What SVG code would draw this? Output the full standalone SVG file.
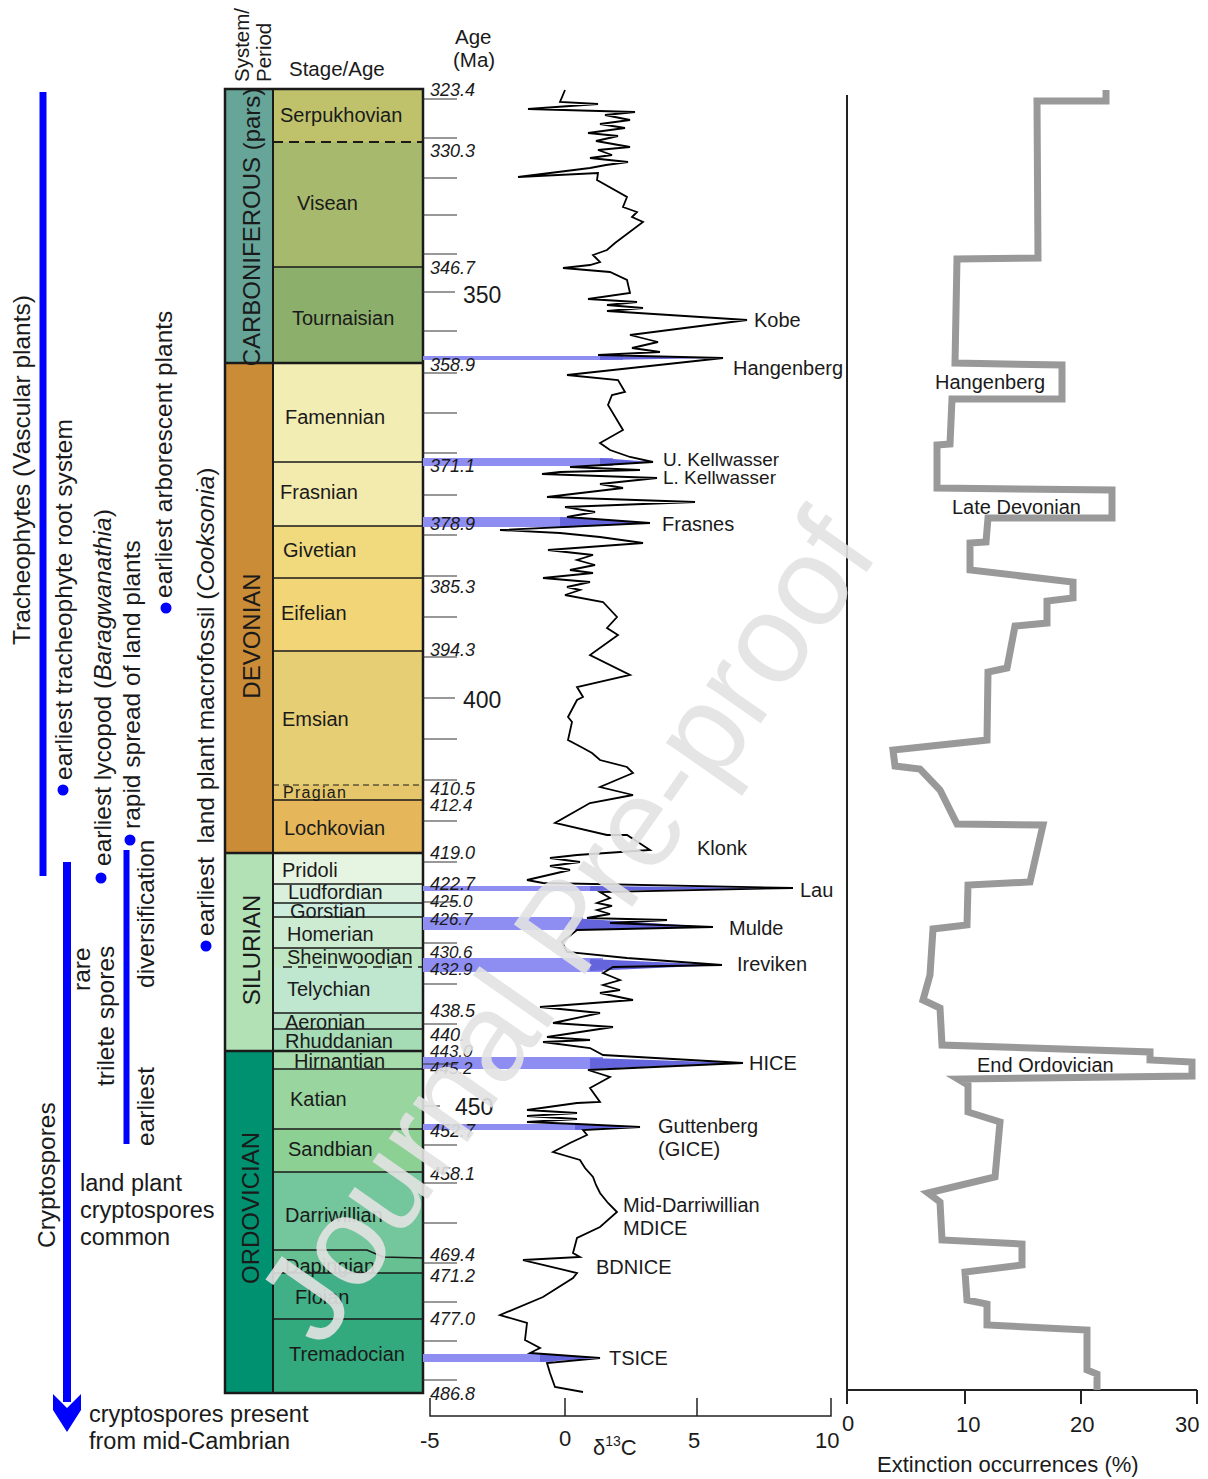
<svg xmlns="http://www.w3.org/2000/svg" width="1208" height="1479" viewBox="0 0 1208 1479">
<style>
text{font-family:"Liberation Sans",Arial,sans-serif;fill:#1a1a1a}
.age{font-style:italic;font-size:18px}
.stg{font-size:20px}
.lbl{font-size:20px}
.rot{font-size:24.5px}
.per{font-size:24px}
.hdr{font-size:20.5px}
.bl{stroke:#1a1a1a;stroke-width:1.5;fill:none}
.pb{stroke:#1a1a1a;stroke-width:2.5;fill:none}
.tk{stroke:#333;stroke-width:1.2}
.band{fill:#8e8ef2}
.wedge{fill:#6464dc}
.dot{fill:#0000ff}
</style>
<rect width="1208" height="1479" fill="#fff"/>

<!-- header -->
<g id="header">
<text class="hdr" transform="translate(249,82) rotate(-90)">System/</text>
<text class="hdr" transform="translate(271,82) rotate(-90)">Period</text>
<text class="hdr" x="289" y="76">Stage/Age</text>
<text class="hdr" x="455" y="44">Age</text>
<text class="hdr" x="453" y="67">(Ma)</text>
</g>

<!-- periods -->
<g id="periods">
<rect x="225" y="89" width="48" height="274" fill="#67A599"/>
<rect x="225" y="363" width="48" height="490" fill="#CB8C37"/>
<rect x="225" y="853" width="48" height="198" fill="#B3E1B6"/>
<rect x="225" y="1051" width="48" height="342" fill="#009270"/>
<text class="per" text-anchor="middle" transform="translate(260,227) rotate(-90)">CARBONIFEROUS (pars)</text>
<text class="per" text-anchor="middle" transform="translate(260,636) rotate(-90)">DEVONIAN</text>
<text class="per" text-anchor="middle" transform="translate(260,950) rotate(-90)">SILURIAN</text>
<text class="per" text-anchor="middle" transform="translate(259,1208) rotate(-90)">ORDOVICIAN</text>
</g>

<!-- stages -->
<g id="stages">
<rect x="273" y="89" width="150" height="53" fill="#BFC26B"/>
<rect x="273" y="142" width="150" height="125" fill="#A6B96C"/>
<rect x="273" y="267" width="150" height="96" fill="#8CB06C"/>
<rect x="273" y="363" width="150" height="99" fill="#F2EDB3"/>
<rect x="273" y="462" width="150" height="64" fill="#F2EBAD"/>
<rect x="273" y="526" width="150" height="52" fill="#F1DA7E"/>
<rect x="273" y="578" width="150" height="73" fill="#F1D576"/>
<rect x="273" y="651" width="150" height="134" fill="#E6CE74"/>
<rect x="273" y="785" width="150" height="15" fill="#E5C66A"/>
<rect x="273" y="800" width="150" height="53" fill="#E5B75A"/>
<rect x="273" y="853" width="150" height="31" fill="#E6F5E1"/>
<rect x="273" y="884" width="150" height="19" fill="#D9F0DF"/>
<rect x="273" y="903" width="150" height="14" fill="#CCECDD"/>
<rect x="273" y="917" width="150" height="31" fill="#CCEBD1"/>
<rect x="273" y="948" width="150" height="19" fill="#BFE6C3"/>
<rect x="273" y="967" width="150" height="46" fill="#BFE6CF"/>
<rect x="273" y="1013" width="150" height="16" fill="#B3E1C2"/>
<rect x="273" y="1029" width="150" height="22" fill="#A6DCB5"/>
<rect x="273" y="1051" width="150" height="18" fill="#A6DBAB"/>
<rect x="273" y="1069" width="150" height="60" fill="#99D69F"/>
<rect x="273" y="1129" width="150" height="43" fill="#8CD094"/>
<rect x="273" y="1172" width="150" height="86" fill="#74C69C"/>
<polygon points="273,1250 367,1250 383,1257 423,1258 423,1273 273,1273" fill="#66C092"/>
<rect x="273" y="1273" width="150" height="46" fill="#41B087"/>
<rect x="273" y="1319" width="150" height="74" fill="#33A97E"/>

<text class="stg" x="280" y="122">Serpukhovian</text>
<text class="stg" x="297" y="210">Visean</text>
<text class="stg" x="292" y="325">Tournaisian</text>
<text class="stg" x="285" y="424">Famennian</text>
<text class="stg" x="280" y="499">Frasnian</text>
<text class="stg" x="283" y="557">Givetian</text>
<text class="stg" x="281" y="620">Eifelian</text>
<text class="stg" x="282" y="726">Emsian</text>
<text class="stg" x="283" y="798" style="font-size:16px;letter-spacing:1.3px">Pragian</text>
<text class="stg" x="284" y="835">Lochkovian</text>
<text class="stg" x="282" y="877">Pridoli</text>
<text class="stg" x="288" y="899">Ludfordian</text>
<text class="stg" x="290" y="918">Gorstian</text>
<text class="stg" x="287" y="941">Homerian</text>
<text class="stg" x="287" y="964">Sheinwoodian</text>
<text class="stg" x="287" y="996">Telychian</text>
<text class="stg" x="285" y="1029">Aeronian</text>
<text class="stg" x="285" y="1048">Rhuddanian</text>
<text class="stg" x="294" y="1068">Hirnantian</text>
<text class="stg" x="290" y="1106">Katian</text>
<text class="stg" x="288" y="1156">Sandbian</text>
<text class="stg" x="285" y="1222">Darriwillian</text>
<text class="stg" x="285" y="1273">Dapingian</text>
<text class="stg" x="295" y="1304">Floian</text>
<text class="stg" x="289" y="1361">Tremadocian</text>
</g>

<!-- boundaries -->
<g id="boundaries">
<path class="bl" d="M273,267H423M273,462H423M273,526H423M273,578H423M273,651H423M273,800H423M273,884H423M273,903H423M273,917H423M273,948H423M273,1013H423M273,1029H423M273,1069H423M273,1129H423M273,1172H423M273,1273H423M273,1319H423"/>
<path class="bl" d="M273,1250H367L383,1257L423,1258"/>
<path d="M273,142H423" stroke="#1a1a1a" stroke-width="2" stroke-dasharray="10,6"/>
<path d="M273,785H423" stroke="#1a1a1a" stroke-width="1.2" stroke-dasharray="6,4"/>
<path d="M283,967H423" stroke="#1a1a1a" stroke-width="1.5" stroke-dasharray="9,6"/>
<path class="pb" d="M225,363H423M225,853H423M225,1051H423"/>
<path d="M273,89V1393" stroke="#1a1a1a" stroke-width="2"/>
<rect x="225" y="89" width="198" height="1304" fill="none" stroke="#1a1a1a" stroke-width="2.5"/>
</g>

<!-- isotope event bands -->
<g id="bands">
<rect class="band" x="423" y="356" width="200" height="4"/>
<polygon class="wedge" points="600,356 723,358 600,360"/>
<rect class="band" x="423" y="458" width="190" height="8"/>
<polygon class="wedge" points="600,458 653,462 600,466"/>
<rect class="band" x="423" y="517" width="150" height="10"/>
<polygon class="wedge" points="560,517 650,523 560,528"/>
<rect class="band" x="423" y="886" width="180" height="5"/>
<polygon class="wedge" points="590,886 793,888 590,891"/>
<rect class="band" x="423" y="917" width="160" height="13"/>
<polygon class="wedge" points="570,918 713,927 570,930"/>
<rect class="band" x="423" y="958" width="180" height="14"/>
<polygon class="wedge" points="590,959 722,965 590,971"/>
<rect class="band" x="423" y="1057" width="180" height="12"/>
<polygon class="wedge" points="590,1058 743,1063 590,1069"/>
<rect class="band" x="423" y="1124" width="160" height="6"/>
<polygon class="wedge" points="575,1124 640,1127 575,1130"/>
<rect class="band" x="423" y="1354" width="130" height="8"/>
<polygon class="wedge" points="540,1354 600,1358 540,1362"/>
</g>

<!-- age ticks and labels -->
<g id="age-scale">
<path class="tk" d="M423,99H457M423,138H457M423,178H457M423,215H457M423,254H457M423,292H455M423,331H457M423,373H457M423,413H457M423,453H457M423,495H457M423,535H457M423,576H457M423,617H457M423,657H457M423,698H455M423,739H457M423,780H457M423,821H457M423,862H457M423,902H457M423,943H457M423,984H457M423,1024H457M423,1064H457M423,1106H440M423,1145H457M423,1183H457M423,1223H457M423,1263H457M423,1302H457M423,1341H457M423,1380H457"/>
<text class="age" x="430" y="96">323.4</text>
<text class="age" x="430" y="157">330.3</text>
<text class="age" x="430" y="274">346.7</text>
<text class="age" x="430" y="371">358.9</text>
<text class="age" x="430" y="472">371.1</text>
<text class="age" x="430" y="530">378.9</text>
<text class="age" x="430" y="593">385.3</text>
<text class="age" x="430" y="656">394.3</text>
<text class="age" x="430" y="795">410.5</text>
<text class="age" x="430" y="811" style="font-size:17px">412.4</text>
<text class="age" x="430" y="859">419.0</text>
<text class="age" x="430" y="890">422.7</text>
<text class="age" x="430" y="907" style="font-size:17px">425.0</text>
<text class="age" x="430" y="925" style="font-size:17px">426.7</text>
<text class="age" x="430" y="958" style="font-size:17px">430.6</text>
<text class="age" x="430" y="975" style="font-size:17px">432.9</text>
<text class="age" x="430" y="1017">438.5</text>
<text class="age" x="430" y="1041">440.</text>
<text class="age" x="430" y="1057" style="font-size:17px">443.0</text>
<text class="age" x="430" y="1074" style="font-size:17px">445.2</text>
<text class="age" x="430" y="1137">452.7</text>
<text class="age" x="430" y="1180">458.1</text>
<text class="age" x="430" y="1261">469.4</text>
<text class="age" x="430" y="1282">471.2</text>
<text class="age" x="430" y="1325">477.0</text>
<text class="age" x="430" y="1400">486.8</text>
<text x="463" y="303" style="font-size:23px">350</text>
<text x="463" y="708" style="font-size:23px">400</text>
<text x="455" y="1115" style="font-size:23px">450</text>
</g>

<!-- carbon isotope curve -->
<g id="d13C-curve">
<polyline fill="none" stroke="#000" stroke-width="1.8" stroke-linejoin="miter" points="565,90 560,102 598,104 528,109 635,112 605,115 630,120 600,124 625,128 588,133 618,136 596,141 630,147 598,150 612,155 590,158 628,162 606,165 590,168 518,177 598,173 597,180 627,197 623,207 637,212 632,217 643,222 615,243 607,250 593,255 600,262 590,265 563,268 610,272 627,280 630,293 588,299 637,302 607,305 643,308 607,311 747,320 630,335 658,342 632,348 660,352 598,355 723,358 567,375 618,380 625,392 612,395 608,405 623,430 600,443 610,450 630,457 653,462 570,467 640,470 560,472 542,474 657,478 600,484 623,488 547,497 695,502 565,507 595,512 567,517 650,523 500,530 560,533 600,537 643,543 548,550 593,555 577,560 595,565 570,570 593,573 543,578 590,582 567,587 580,590 565,595 603,602 617,617 607,628 618,635 590,655 630,675 577,687 583,697 577,700 568,717 572,722 568,740 583,748 592,753 600,760 627,767 633,773 600,787 633,795 590,803 555,823 607,835 627,835 650,850 577,855 550,858 580,862 550,866 570,870 527,880 543,883 793,888 600,892 610,898 597,903 612,906 597,910 610,914 587,918 667,920 610,923 713,927 577,930 562,942 567,952 627,958 722,965 613,967 603,973 620,980 603,985 620,990 600,993 633,1000 540,1007 600,1013 553,1023 613,1027 547,1037 590,1040 543,1042 590,1048 603,1055 743,1063 588,1070 610,1077 590,1088 600,1102 577,1103 527,1110 577,1113 527,1116 577,1119 527,1122 577,1124 640,1127 583,1130 587,1135 570,1143 553,1152 580,1160 585,1168 593,1177 596,1185 600,1193 608,1203 617,1212 600,1227 577,1238 573,1253 580,1257 523,1260 577,1273 573,1278 543,1297 500,1315 527,1323 525,1340 540,1348 530,1353 600,1358 547,1363 550,1373 555,1387 583,1392"/>
</g>

<!-- curve labels -->
<g id="event-labels">
<text class="lbl" x="754" y="327">Kobe</text>
<text class="lbl" x="733" y="375">Hangenberg</text>
<text class="lbl" x="663" y="466" style="font-size:19px">U. Kellwasser</text>
<text class="lbl" x="663" y="484" style="font-size:19px">L. Kellwasser</text>
<text class="lbl" x="662" y="531">Frasnes</text>
<text class="lbl" x="697" y="855">Klonk</text>
<text class="lbl" x="800" y="897">Lau</text>
<text class="lbl" x="729" y="935">Mulde</text>
<text class="lbl" x="737" y="971">Ireviken</text>
<text class="lbl" x="749" y="1070">HICE</text>
<text class="lbl" x="658" y="1133">Guttenberg</text>
<text class="lbl" x="658" y="1156">(GICE)</text>
<text class="lbl" x="623" y="1212">Mid-Darriwillian</text>
<text class="lbl" x="623" y="1235">MDICE</text>
<text class="lbl" x="596" y="1274">BDNICE</text>
<text class="lbl" x="609" y="1365">TSICE</text>
</g>

<!-- d13C axis -->
<g id="d13C-axis">
<path d="M430,1398V1416H831V1398M565,1416V1398M697,1416V1398" fill="none" stroke="#222" stroke-width="1.5"/>
<text x="420" y="1448" style="font-size:22px">-5</text>
<text x="559" y="1446" style="font-size:22px">0</text>
<text x="593" y="1455" style="font-size:22px">δ<tspan style="font-size:14px" dy="-9">13</tspan><tspan dy="9">C</tspan></text>
<text x="688" y="1448" style="font-size:22px">5</text>
<text x="815" y="1448" style="font-size:22px">10</text>
</g>

<!-- extinction plot -->
<g id="extinction-axis">
<path d="M847,95V1390H1197M965,1390V1404M1081,1390V1404M1197,1390V1404M847,1390V1404" fill="none" stroke="#222" stroke-width="2"/>
<text x="842" y="1431" style="font-size:22px">0</text>
<text x="956" y="1432" style="font-size:22px">10</text>
<text x="1070" y="1432" style="font-size:22px">20</text>
<text x="1175" y="1432" style="font-size:22px">30</text>
<text x="877" y="1472" style="font-size:22px">Extinction occurrences (%)</text>
</g>
<g id="extinction-curve">
<polyline fill="none" stroke="#999" stroke-width="7" stroke-linejoin="miter" points="1106,90 1106,101 1037,101 1038,258 957,259 955,363 1062,365 1062,399 952,399 950,444 937,445 937,488 1112,490 1112,518 988,518 986,542 970,543 970,570 1073,582 1073,598 1047,601 1047,623 1015,626 1007,668 988,672 987,740 893,750 895,766 920,769 940,790 957,824 1043,825 1030,882 968,885 967,925 933,929 930,975 923,1000 940,1008 942,1045 1150,1052 1150,1060 1192,1062 1192,1076 958,1079 968,1085 968,1112 1000,1122 995,1177 928,1193 940,1202 942,1240 1022,1244 1022,1265 965,1272 967,1300 987,1304 987,1325 1087,1330 1087,1370 1097,1374 1097,1390"/>
<text class="lbl" x="935" y="389">Hangenberg</text>
<text class="lbl" x="952" y="514">Late Devonian</text>
<text class="lbl" x="977" y="1072">End Ordovician</text>
</g>

<!-- left: plant record -->
<g id="tracheophytes">
<rect x="39.5" y="92" width="7" height="784" fill="#0000ff"/>
<text class="rot" transform="translate(30,645) rotate(-90)">Tracheophytes (Vascular plants)</text>
</g>
<g id="root-system">
<circle class="dot" cx="63" cy="790" r="5.5"/>
<text class="rot" transform="translate(72,780) rotate(-90)">earliest tracheophyte root system</text>
</g>
<g id="lycopod">
<circle class="dot" cx="101" cy="878" r="5.5"/>
<text class="rot" transform="translate(111,866) rotate(-90)">earliest lycopod (<tspan font-style="italic">Baragwanathia</tspan>)</text>
</g>
<g id="rapid-spread">
<circle class="dot" cx="130" cy="840" r="5.5"/>
<text class="rot" transform="translate(140,829) rotate(-90)">rapid spread of land plants</text>
</g>
<g id="arborescent">
<circle class="dot" cx="166" cy="608" r="5.5"/>
<text class="rot" transform="translate(172,598) rotate(-90)">earliest arborescent plants</text>
</g>
<g id="macrofossil">
<circle class="dot" cx="206" cy="946" r="5.5"/>
<text class="rot" transform="translate(214,936) rotate(-90)">earliest &#160;land plant macrofossil (<tspan font-style="italic">Cooksonia</tspan>)</text>
</g>
<g id="cryptospores">
<rect x="63" y="862" width="8" height="540" fill="#0000ff"/>
<polygon points="53,1394 67,1408 81,1394 81,1410 67,1432 53,1410" fill="#0000ff"/>
<text class="rot" transform="translate(55,1248) rotate(-90)">Cryptospores</text>
<text style="font-size:23.5px" x="80" y="1191">land plant</text>
<text style="font-size:23.5px" x="80" y="1218">cryptospores</text>
<text style="font-size:23.5px" x="80" y="1245">common</text>
<text style="font-size:23.5px" x="89" y="1422">cryptospores present</text>
<text style="font-size:23.5px" x="89" y="1449">from mid-Cambrian</text>
</g>
<g id="trilete-spores">
<rect x="123.5" y="850" width="6" height="294" fill="#0000ff"/>
<text class="rot" transform="translate(90,991) rotate(-90)">rare</text>
<text class="rot" transform="translate(114,1086) rotate(-90)">trilete spores</text>
<text class="rot" transform="translate(154,988) rotate(-90)">diversification</text>
<text class="rot" transform="translate(154,1146) rotate(-90)">earliest</text>
</g>

<!-- watermark -->
<text transform="translate(322,1350) rotate(-55)" style="font-size:126px;fill:#e2e2e2;fill-opacity:0.9">Journal Pre-proof</text>
</svg>
